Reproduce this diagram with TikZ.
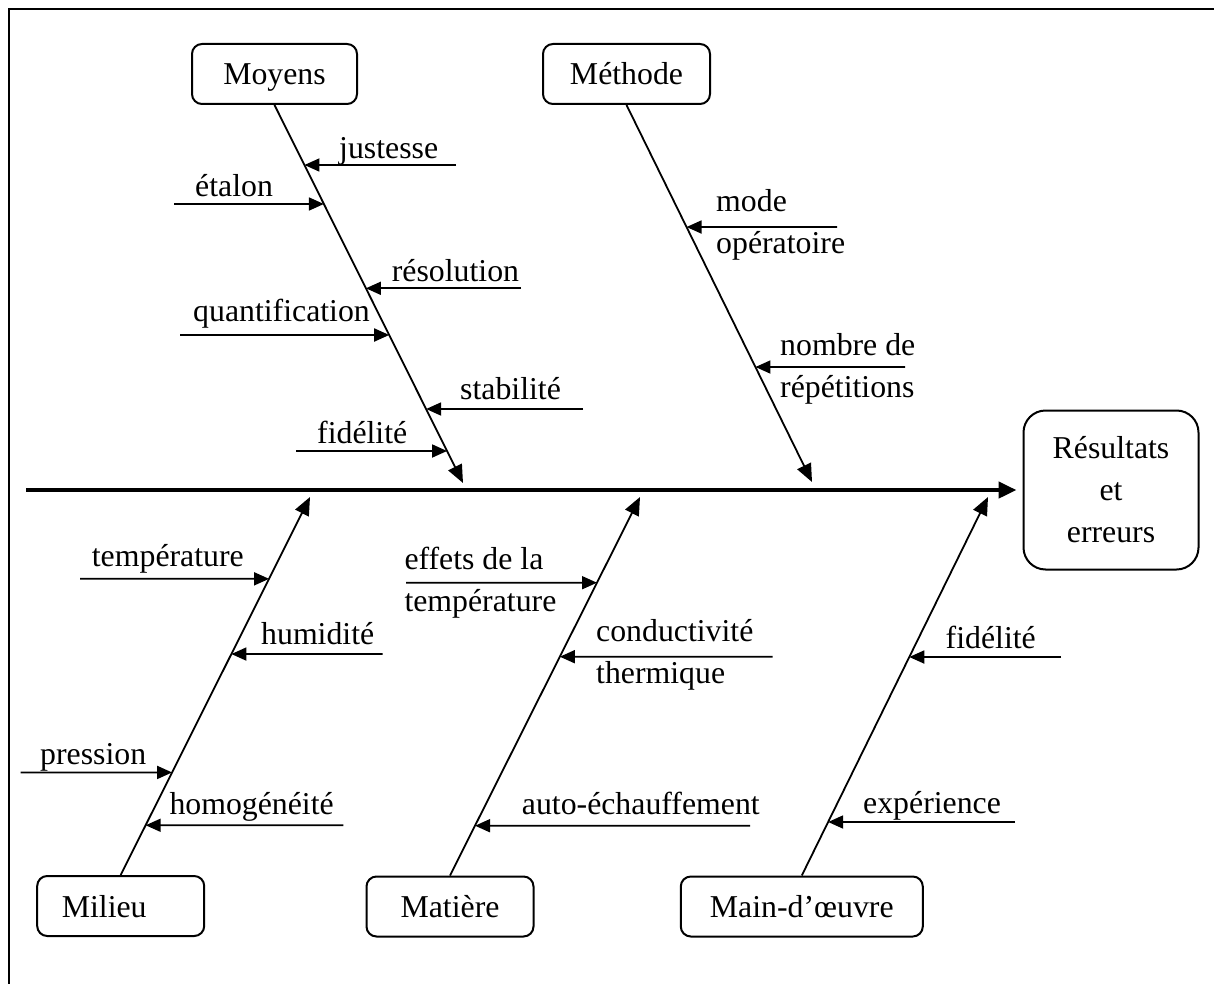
\documentclass[tikz,border=0pt]{standalone}
\usepackage{fontspec}
\setmainfont{Liberation Serif}
\usetikzlibrary{arrows.meta}
\begin{document}
\begin{tikzpicture}[x=1pt,y=-1pt,
  every node/.style={font=\fontsize{31.8}{42}\selectfont},
  box/.style={draw,line width=2pt,rounded corners=10pt,inner sep=0pt,minimum height=60pt,text height=28pt,text depth=6pt},
  bigbox/.style={draw,line width=2pt,rounded corners=22pt,inner sep=0pt,align=center},
  lbl/.style={anchor=base west,inner sep=0pt,align=left},
  sub/.style={line width=1.8pt,-{Triangle[length=15pt,width=13pt]}},
  bone/.style={line width=1.8pt,-{Triangle[length=18pt,width=15pt]}},
  spine/.style={line width=4.5pt,-{Triangle[length=18pt,width=16pt]}},
  frame/.style={line width=2.2pt}]
\useasboundingbox (0,0) rectangle (1214,984);
\draw[frame] (9,984) -- (9,9) -- (1214,9);

% boxes
\node[box,minimum width=165pt] (moyens) at (274.5,74) {Moyens};
\node[box,minimum width=167pt] (methode) at (626.5,74) {Méthode};
\node[box,minimum width=167pt] (milieu) at (120.7,906) {Milieu\hspace*{33pt}};
\node[box,minimum width=167pt] (matiere) at (450,906.5) {Matière};
\node[box,minimum width=242pt] (mainoe) at (801.8,906.5) {Main-d’œuvre};
\node[bigbox,minimum width=175pt,minimum height=159pt] (res) at (1111,490) {Résultats\\et\\erreurs};

% spine
\coordinate (spS) at (26,490);
\draw[spine,shorten >=6pt] (spS) -- (spS -| res.west);

% bones
\coordinate (moT) at (463,483);
\coordinate (meT) at (812,482);
\coordinate (miT) at (310,497);
\coordinate (maT) at (640,497);
\coordinate (mdT) at (988,497);
\draw[bone] (moyens.south) -- (moT);
\draw[bone] (methode.south) -- (meT);
\draw[bone] (milieu.north) -- (miT);
\draw[bone] (matiere.north) -- (maT);
\draw[bone] (mainoe.north) -- (mdT);

% Moyens causes
\coordinate (e1) at (456,165);
\coordinate (t1) at (intersection of moyens.south--moT and 0,165--10,165);
\draw[sub] (e1) -- (t1);
\node[lbl] (l1) at (339,158.3) {justesse};
\coordinate (e2) at (174,204);
\coordinate (t2) at (intersection of moyens.south--moT and 0,204--10,204);
\draw[sub] (e2) -- (t2);
\node[lbl] (l2) at (195,196.7) {étalon};
\coordinate (e3) at (521,288.3);
\coordinate (t3) at (intersection of moyens.south--moT and 0,288.3--10,288.3);
\draw[sub] (e3) -- (t3);
\node[lbl] (l3) at (391.7,281.7) {résolution};
\coordinate (e4) at (180,335);
\coordinate (t4) at (intersection of moyens.south--moT and 0,335--10,335);
\draw[sub] (e4) -- (t4);
\node[lbl] (l4) at (193,321.7) {quantification};
\coordinate (e5) at (583,409);
\coordinate (t5) at (intersection of moyens.south--moT and 0,409--10,409);
\draw[sub] (e5) -- (t5);
\node[lbl] (l5) at (460,399) {stabilité};
\coordinate (e6) at (296,451);
\coordinate (t6) at (intersection of moyens.south--moT and 0,451--10,451);
\draw[sub] (e6) -- (t6);
\node[lbl] (l6) at (317,443) {fidélité};

% Methode causes
\coordinate (e7) at (837,227);
\coordinate (t7) at (intersection of methode.south--meT and 0,227--10,227);
\draw[sub] (e7) -- (t7);
\node[lbl] (l7) at (716,253) {mode\\opératoire};
\coordinate (e8) at (905,367);
\coordinate (t8) at (intersection of methode.south--meT and 0,367--10,367);
\draw[sub] (e8) -- (t8);
\node[lbl] (l8) at (780,397) {nombre de\\répétitions};

% Milieu causes
\coordinate (e9) at (80,578.8);
\coordinate (t9) at (intersection of milieu.north--miT and 0,578.8--10,578.8);
\draw[sub] (e9) -- (t9);
\node[lbl] (l9) at (91.7,566.6) {température};
\coordinate (e10) at (382.7,654);
\coordinate (t10) at (intersection of milieu.north--miT and 0,654--10,654);
\draw[sub] (e10) -- (t10);
\node[lbl] (l10) at (261,644.7) {humidité};
\coordinate (e11) at (20.7,772.4);
\coordinate (t11) at (intersection of milieu.north--miT and 0,772.4--10,772.4);
\draw[sub] (e11) -- (t11);
\node[lbl] (l11) at (40,764.4) {pression};
\coordinate (e12) at (343.3,825.2);
\coordinate (t12) at (intersection of milieu.north--miT and 0,825.2--10,825.2);
\draw[sub] (e12) -- (t12);
\node[lbl] (l12) at (169.3,814.7) {homogénéité};

% Matiere causes
\coordinate (e13) at (406,582.7);
\coordinate (t13) at (intersection of matiere.north--maT and 0,582.7--10,582.7);
\draw[sub] (e13) -- (t13);
\node[lbl] (l13) at (404.3,611.7) {effets de la\\température};
\coordinate (e14) at (772.7,656.7);
\coordinate (t14) at (intersection of matiere.north--maT and 0,656.7--10,656.7);
\draw[sub] (e14) -- (t14);
\node[lbl] (l14) at (596,683) {conductivité\\thermique};
\coordinate (e15) at (750,825.7);
\coordinate (t15) at (intersection of matiere.north--maT and 0,825.7--10,825.7);
\draw[sub] (e15) -- (t15);
\node[lbl] (l15) at (521.7,814) {auto-échauffement};

% Main-d'oeuvre causes
\coordinate (e16) at (1061,657);
\coordinate (t16) at (intersection of mainoe.north--mdT and 0,657--10,657);
\draw[sub] (e16) -- (t16);
\node[lbl] (l16) at (945.5,648) {fidélité};
\coordinate (e17) at (1015,822);
\coordinate (t17) at (intersection of mainoe.north--mdT and 0,822--10,822);
\draw[sub] (e17) -- (t17);
\node[lbl] (l17) at (863,813) {expérience};
\end{tikzpicture}
\end{document}
